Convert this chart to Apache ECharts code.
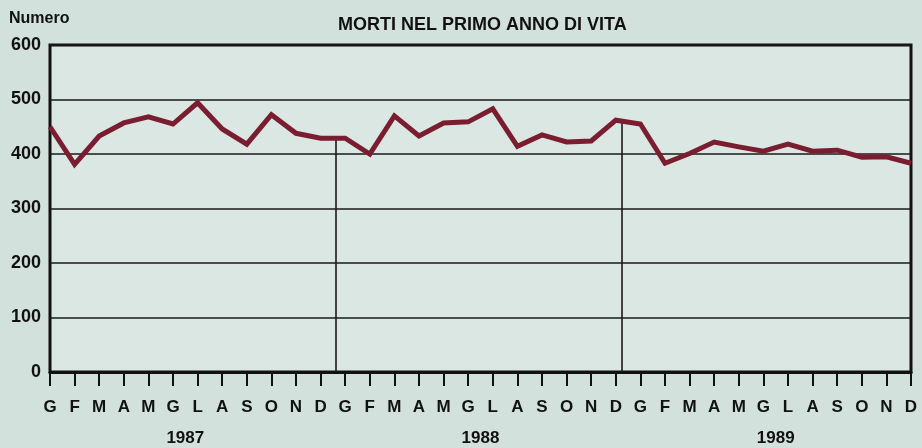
<!DOCTYPE html>
<html>
<head>
<meta charset="utf-8">
<script src="https://cdn.jsdelivr.net/npm/echarts@6/dist/echarts.min.js"></script>
<style>
  html, body { margin: 0; padding: 0; background: #d2e1db; }
  #chart { width: 922px; height: 448px; }
</style>
</head>
<body>
<div id="chart"></div>
<script>
// mesi (iniziali) e anni
const months = ['G','F','M','A','M','G','L','A','S','O','N','D',
                'G','F','M','A','M','G','L','A','S','O','N','D',
                'G','F','M','A','M','G','L','A','S','O','N','D']
const years = ['1987', '1988', '1989']
const yearCenters = [5.5, 17.5, 29.5]

// morti nel primo anno di vita, mensili 1987-1989
const deaths = [450, 381, 433, 457, 468, 455, 494, 446, 418, 472, 438, 429,
                429, 400, 470, 433, 457, 459, 483, 414, 435, 422, 424, 462,
                455, 383, 401, 422, 413, 405, 418, 405, 407, 394, 395, 383]

// separatori tra gli anni (posizione sull'asse x)
const dividers = [11.6, 23.25]

const yTicks = [0, 100, 200, 300, 400, 500, 600]

const chart = echarts.init(document.getElementById('chart'))
const font = 'Liberation Sans, Arial, sans-serif'

// valore della linea nel punto del separatore, per farlo partire dalla curva
const valueAt = x => {
  const i = Math.floor(x)
  const t = x - i
  return deaths[i] + (deaths[i + 1] - deaths[i]) * t
}

const option = {
  backgroundColor: '#d2e1db',
  animation: false,
  textStyle: { fontFamily: font },
  title: {
    text: 'MORTI NEL PRIMO ANNO DI VITA',
    left: 333, top: 11,
    textStyle: { fontSize: 18, fontWeight: 'bold', color: '#111', fontFamily: font }
  },
  graphic: [{
    type: 'text', left: 9, top: 11,
    style: { text: 'Numero', font: 'bold 16px ' + font, fill: '#111' }
  }],
  grid: {
    left: 50, right: 11, top: 45, bottom: 76,
    show: true, backgroundColor: '#dbe7e2',
    borderColor: '#111', borderWidth: 3
  },
  xAxis: [{
    type: 'value', min: 0, max: 35, interval: 1,
    axisLine: { show: true, lineStyle: { color: '#111', width: 3 } },
    axisTick: { show: true, length: 14, lineStyle: { color: '#111', width: 2 } },
    axisLabel: {
      margin: 27, fontSize: 17, fontWeight: 'bold', color: '#111', fontFamily: font,
      formatter: v => months[v] || ''
    },
    splitLine: { show: false }
  }, {
    type: 'value', min: 0, max: 35, position: 'bottom', offset: 50,
    axisLine: { show: false },
    axisTick: { show: false },
    splitLine: { show: false },
    axisLabel: {
      customValues: yearCenters,
      fontSize: 17, fontWeight: 'bold', color: '#111', fontFamily: font,
      formatter: v => years[yearCenters.indexOf(v)] || ''
    }
  }],
  yAxis: {
    type: 'value', min: 0, max: 600, interval: 100,
    axisLine: { show: false },
    axisTick: { show: false },
    axisLabel: {
      margin: 9, fontSize: 18, fontWeight: 'bold', color: '#111', fontFamily: font,
      formatter: v => yTicks.includes(v) ? String(v) : ''
    },
    splitLine: { show: true, lineStyle: { color: '#1a1a1a', width: 1.6 } }
  },
  series: [{
    type: 'line',
    data: deaths.map((d, i) => [i, d]),
    symbol: 'none',
    lineStyle: { color: '#7b1d30', width: 5, join: 'miter' },
    z: 5,
    markLine: {
      silent: true, symbol: 'none', label: { show: false },
      lineStyle: { color: '#1a1a1a', width: 1.6, type: 'solid' },
      data: dividers.map(x => [{ coord: [x, 0] }, { coord: [x, valueAt(x)] }])
    }
  }]
}

chart.setOption(option)
</script>
</body>
</html>
